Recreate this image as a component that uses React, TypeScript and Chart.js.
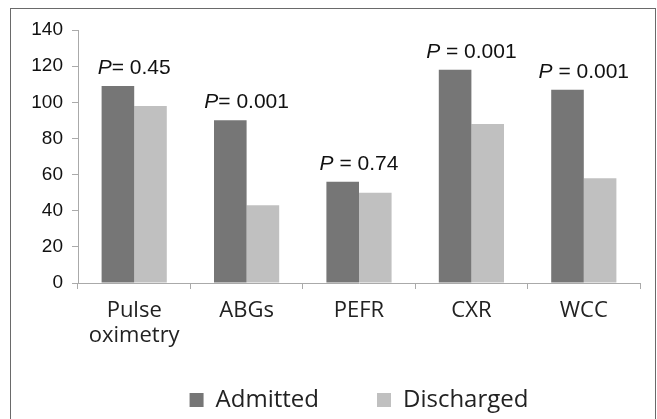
import React, { useEffect, useRef } from "react";
import { Chart, registerables } from "chart.js";

Chart.register(...registerables);

const categories: (string | string[])[] = [["Pulse", "oximetry"], "ABGs", "PEFR", "CXR", "WCC"];
const admitted = [109, 90, 56, 118, 107];
const discharged = [98, 43, 50, 88, 58];
const pLabels = ["= 0.45", "= 0.001", " = 0.74", " = 0.001", " = 0.001"];
const yTicks = [0, 20, 40, 60, 80, 100, 120, 140];

const ADM = "#767676";
const DIS = "#c0c0c0";

const borderPlugin = {
  id: "outerBorder",
  beforeDraw(chart: any) {
    const ctx = chart.ctx;
    ctx.save();
    ctx.strokeStyle = "#6a6a6a";
    ctx.lineWidth = 1;
    ctx.strokeRect(10.5, 8.5, 645, 430);
    ctx.restore();
  },
  afterLayout(chart: any) {
    // let the two-line category labels extend below the axis box
    chart.scales.x.bottom = chart.height;
  },
};

const pLabelPlugin = {
  id: "pLabels",
  afterDatasetsDraw(chart: any) {
    const ctx = chart.ctx;
    const meta = chart.getDatasetMeta(0);
    const xScale = chart.scales.x;
    const size = 21;
    ctx.save();
    ctx.fillStyle = "#111";
    ctx.textBaseline = "alphabetic";
    ctx.textAlign = "left";
    meta.data.forEach((bar: any, i: number) => {
      const cx = xScale.getPixelForValue(i);
      const y = bar.y - 12;
      ctx.font = `italic ${size}px 'Liberation Sans'`;
      const pw = ctx.measureText("P").width;
      ctx.font = `${size}px 'Liberation Sans'`;
      const rw = ctx.measureText(pLabels[i]).width;
      const start = cx - (pw + rw) / 2;
      ctx.font = `italic ${size}px 'Liberation Sans'`;
      ctx.fillText("P", start, y);
      ctx.font = `${size}px 'Liberation Sans'`;
      ctx.fillText(pLabels[i], start + pw, y);
    });
    ctx.restore();
  },
};

export default function App() {
  const ref = useRef<HTMLCanvasElement>(null);
  useEffect(() => {
    if (!ref.current) return;
    const chart = new Chart(ref.current, {
      type: "bar",
      data: {
        labels: categories,
        datasets: [
          { label: "Admitted", data: admitted, backgroundColor: ADM, categoryPercentage: 0.58, barPercentage: 1 },
          { label: "Discharged", data: discharged, backgroundColor: DIS, categoryPercentage: 0.58, barPercentage: 1 },
        ],
      },
      options: {
        responsive: false,
        animation: false,
        devicePixelRatio: 1,
        layout: { padding: { top: 30, right: 17, bottom: -3, left: 0 } },
        plugins: {
          legend: {
            position: "bottom",
            fullSize: false,
            labels: {
              boxWidth: 14,
              boxHeight: 14,
              padding: 58,
              color: "#222",
              font: { family: "'Open Sans'", size: 24 },
            },
          },
          tooltip: { enabled: false },
        },
        scales: {
          x: {
            grid: { drawOnChartArea: false, tickLength: 6, color: "#aaa", offset: true },
            border: { color: "#aaa" },
            ticks: { color: "#222", font: { family: "'Open Sans'", size: 22, lineHeight: 1.15 }, padding: 9, maxRotation: 0 },
            afterFit(scale: any) {
              scale.height = 47;
            },
          },
          y: {
            min: 0,
            max: 140,
            afterBuildTicks(scale: any) {
              scale.ticks = yTicks.map((v) => ({ value: v }));
            },
            grid: { drawOnChartArea: false, tickLength: 6, color: "#aaa" },
            border: { color: "#aaa" },
            ticks: { color: "#111", font: { family: "'Liberation Sans'", size: 19 }, padding: 9 },
            afterFit(scale: any) {
              scale.width = 78;
            },
          },
        },
      },
      plugins: [borderPlugin, pLabelPlugin],
    });
    return () => chart.destroy();
  }, []);
  return (
    <div style={{ position: "absolute", left: 0, top: 0, width: 657, height: 419 }}>
      <canvas ref={ref} width={657} height={419} style={{ width: 657, height: 419 }} />
    </div>
  );
}
